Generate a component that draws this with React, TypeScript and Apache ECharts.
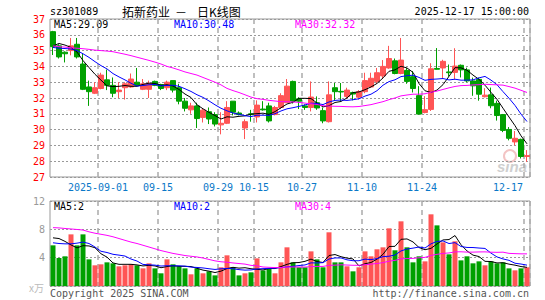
import React, { useEffect, useRef } from "react";
import * as echarts from "echarts";

const dates = [
  "2025-08-20","2025-08-21","2025-08-22","2025-08-25","2025-08-26","2025-08-27","2025-08-28","2025-08-29",
  "2025-09-01","2025-09-02","2025-09-03","2025-09-04","2025-09-05","2025-09-08","2025-09-09","2025-09-10","2025-09-11","2025-09-12",
  "2025-09-15","2025-09-16","2025-09-17","2025-09-18","2025-09-19","2025-09-22","2025-09-23","2025-09-24","2025-09-25","2025-09-26",
  "2025-09-29","2025-09-30","2025-10-09","2025-10-10","2025-10-13","2025-10-14","2025-10-15","2025-10-16","2025-10-17",
  "2025-10-20","2025-10-21","2025-10-22","2025-10-23","2025-10-24","2025-10-27","2025-10-28","2025-10-29","2025-10-30","2025-10-31",
  "2025-11-03","2025-11-04","2025-11-05","2025-11-06","2025-11-07","2025-11-10","2025-11-11","2025-11-12","2025-11-13","2025-11-14",
  "2025-11-17","2025-11-18","2025-11-19","2025-11-20","2025-11-21","2025-11-24","2025-11-25","2025-11-26","2025-11-27","2025-11-28",
  "2025-12-01","2025-12-02","2025-12-03","2025-12-04","2025-12-05","2025-12-08","2025-12-09","2025-12-10","2025-12-11","2025-12-12",
  "2025-12-15","2025-12-16","2025-12-17"
];

const opens = [
  36.2, 35.3, 34.9, 35.0, 35.4, 34.15, 32.7, 32.3, 32.6, 33.15,
  32.8, 32.4, 32.65, 32.7, 33.0, 32.55, 32.55, 33.05, 32.85, 32.65,
  33.1, 32.65, 31.8, 31.25, 31.5, 30.77, 31.13, 30.95, 30.3, 30.4,
  31.8, 31.05, 30.1, 31.0, 30.8, 31.3, 31.5, 30.95, 31.4, 31.7,
  33.05, 31.95, 31.5, 31.4, 31.7, 31.2, 30.5, 32.65, 32.42, 32.1,
  32.35, 32.05, 32.4, 32.7, 33.05, 33.4, 33.9, 34.35, 33.55, 33.75,
  33.35, 32.15, 31.08, 31.28, 33.87, 33.9, 33.65, 33.62, 34.07, 33.78,
  33.08, 33.18, 32.08, 32.2, 31.66, 30.95, 30.01, 29.22, 29.38, 28.3
];
const closes = [
  35.25, 34.6, 34.8, 35.3, 34.6, 32.55, 32.4, 32.65, 33.45, 32.8,
  32.3, 32.5, 32.9, 33.2, 32.8, 32.9, 32.9, 32.8, 32.6, 33.0,
  32.5, 31.8, 31.35, 31.5, 30.7, 31.23, 30.67, 30.35, 30.4, 31.4,
  31.1, 30.95, 30.5, 30.95, 31.55, 31.25, 30.55, 31.4, 32.15, 32.75,
  31.8, 31.8, 31.4, 32.06, 31.37, 30.55, 32.2, 32.4, 32.38, 32.5,
  32.25, 32.4, 33.1, 33.25, 33.6, 34.0, 34.5, 33.55, 34.4, 33.05,
  32.6, 30.98, 31.26, 33.85, 33.82, 34.32, 33.6, 34.02, 33.78, 33.08,
  32.77, 32.24, 32.18, 31.51, 30.89, 29.95, 29.45, 29.45, 28.3, 28.35
];
const lows = [
  34.72, 34.5, 34.25, 34.7, 34.5, 32.5, 31.5, 32.25, 32.55, 32.5,
  32.05, 32.0, 31.9, 32.65, 32.75, 32.5, 32.0, 32.75, 32.5, 32.5,
  32.35, 31.6, 31.15, 31.0, 30.1, 30.45, 30.35, 30.2, 29.7, 30.35,
  30.9, 30.9, 29.4, 30.5, 30.45, 31.2, 30.45, 30.9, 31.3, 31.7,
  31.65, 31.3, 31.25, 31.15, 31.25, 30.4, 30.45, 31.85, 31.8, 31.95,
  31.85, 31.9, 32.3, 32.65, 32.9, 33.2, 33.85, 33.5, 33.5, 32.9,
  32.35, 30.95, 31.03, 31.18, 33.8, 33.22, 33.35, 33.18, 33.3, 33.0,
  32.14, 31.83, 32.04, 31.35, 30.57, 29.84, 29.32, 29.0, 28.17, 27.96
];
const highs = [
  36.25, 35.4, 34.95, 35.8, 35.8, 34.8, 33.1, 33.0, 33.6, 33.8,
  33.3, 33.0, 33.0, 33.55, 33.9, 33.2, 33.1, 33.1, 32.9, 33.1,
  33.1, 32.9, 32.0, 31.7, 31.7, 31.35, 31.4, 31.1, 31.1, 31.8,
  31.8, 31.15, 30.65, 31.25, 31.85, 31.8, 31.7, 31.5, 32.3, 33.2,
  33.1, 32.05, 31.6, 33.05, 32.1, 31.4, 33.05, 32.95, 32.95, 32.65,
  32.4, 32.5, 33.6, 33.6, 33.9, 34.4, 35.3, 34.5, 35.8, 33.9,
  33.7, 32.75, 32.12, 34.2, 35.16, 34.42, 34.12, 35.15, 34.12, 33.92,
  33.29, 33.29, 32.62, 32.66, 31.83, 30.99, 30.16, 29.91, 29.43, 28.7
];
const volumes = [
  5.74, 3.95, 4.19, 7.29, 5.74, 7.29, 3.76, 2.92, 3.06, 3.34,
  3.2, 2.78, 2.92, 3.06, 2.92, 2.49, 3.2, 2.49, 1.79, 3.76,
  3.06, 2.78, 2.49, 1.65, 2.49, 1.79, 2.07, 1.5, 2.64, 4.33,
  2.64, 1.5, 1.79, 1.93, 3.9, 2.2, 2.49, 1.79, 3.34, 5.46,
  3.34, 2.64, 2.64, 4.89, 3.76, 2.64, 7.58, 3.34, 3.34, 2.78,
  2.07, 2.64, 4.89, 4.19, 5.18, 5.46, 8.14, 5.04, 9.13, 5.46,
  3.34, 4.19, 3.48, 10.12, 8.56, 6.16, 4.47, 6.31, 3.62, 4.19,
  3.2, 3.48, 2.92, 3.48, 3.2, 3.34, 2.49, 2.21, 2.49, 2.64
];

// Moving-average values before a full window is available
const priceMa5Head = [35.3, 35.45, 35.35, 35.2];
const priceMa10Head = [35.2, 35.15, 35.13, 35.1, 35.0, 34.8, 34.57, 34.3, 34.05];
const priceMa30Head = [
  35.3, 35.25, 35.22, 35.18, 35.15, 35.12, 35.08, 35.03, 35.0, 34.97,
  34.93, 34.85, 34.77, 34.68, 34.58, 34.48, 34.38, 34.27, 34.15, 34.0,
  33.9, 33.78, 33.65, 33.55, 33.45, 33.3, 33.15, 33.0, 32.83
];
const volMa5Head = [6.8, 6.7, 6.3, 5.8];
const volMa10Head = [6.1, 6.0, 5.95, 5.95, 6.05, 6.2, 6.0, 5.5, 4.9];
const volMa30Head = [
  8.24, 8.2, 8.12, 8.05, 7.98, 7.9, 7.65, 7.45, 7.3, 7.15,
  6.95, 6.7, 6.45, 6.2, 6.0, 5.75, 5.5, 5.25, 5.0, 4.8,
  4.6, 4.45, 4.3, 4.2, 4.1, 3.95, 3.75, 3.55, 3.42
];

const labelIndices = [8, 18, 28, 34, 42, 52, 62, 79];
const priceMin = 27;
const priceMax = 37;
const volMax = 12;

const UP = "#ff5555";
const DOWN = "#00a000";
const MONO = "DejaVu Sans Mono";

function movingAvg(values: number[], n: number, head: number[]) {
  return values.map((_, i) => {
    if (i < n - 1) return head[i];
    let s = 0;
    for (let k = i - n + 1; k <= i; k++) s += values[k];
    return +(s / n).toFixed(3);
  });
}

export default function App() {
  const ref = useRef<HTMLDivElement>(null);
  useEffect(() => {
    if (!ref.current) return;
    const chart = echarts.init(ref.current, null, { renderer: "svg" });
    const kdata = dates.map((_, i) => [opens[i], closes[i], lows[i], highs[i]]);
    const vdata = volumes.map((v, i) => ({
      value: v,
      itemStyle: { color: closes[i] >= opens[i] ? UP : DOWN },
    }));
    const splitV = {
      show: true,
      interval: (idx: number) => labelIndices.includes(idx),
      lineStyle: { color: "#aaa", width: 1.5, type: [5, 4] as any },
    };
    const line = (data: number[], color: string, xi: number, yi: number) => ({
      type: "line",
      data,
      xAxisIndex: xi,
      yAxisIndex: yi,
      showSymbol: false,
      symbol: "none",
      lineStyle: { color, width: 1 },
      silent: true,
      z: 5,
    });
    const txt = (text: string, x: number, y: number, fill: string, align = "left", font = `10px '${MONO}'`) => ({
      type: "text",
      x,
      y,
      silent: true,
      style: { text, fill, font, align, verticalAlign: "middle", textAlign: align, textVerticalAlign: "middle" },
    });
    chart.setOption({
      animation: false,
      backgroundColor: "#fff",
      grid: [
        { left: 50, top: 19, width: 480, height: 158, show: true, borderColor: "#999", borderWidth: 1, backgroundColor: "transparent" },
        { left: 50, top: 201, width: 480, height: 85, show: true, borderColor: "#999", borderWidth: 1, backgroundColor: "transparent" },
      ],
      xAxis: [
        {
          type: "category",
          gridIndex: 0,
          data: dates,
          boundaryGap: true,
          axisLine: { show: false },
          axisTick: { show: false },
          splitLine: splitV,
          axisLabel: {
            show: true,
            interval: (idx: number) => labelIndices.includes(idx),
            margin: 5,
            formatter: (value: string, idx: number) => {
              if (idx === 8) return "{a|" + value + "}";
              if (idx === 79) return "{r|" + value.slice(5) + "}";
              return "{a|" + value.slice(5) + "}";
            },
            rich: {
              a: { color: "#0a78c8", fontFamily: MONO, fontSize: 10, padding: [0, 6, 0, 0] },
              r: { color: "#0a78c8", fontFamily: MONO, fontSize: 10, padding: [0, 38, 0, 0] },
            },
          },
        },
        {
          type: "category",
          gridIndex: 1,
          data: dates,
          boundaryGap: true,
          axisLine: { show: false },
          axisTick: { show: false },
          axisLabel: { show: false },
          splitLine: splitV,
        },
      ],
      yAxis: [
        {
          type: "value",
          gridIndex: 0,
          min: priceMin,
          max: priceMax,
          interval: 1,
          axisLine: { show: false },
          axisTick: { show: false },
          axisLabel: { color: "#ff0000", fontFamily: MONO, fontSize: 10, margin: 5 },
          splitLine: { show: true, lineStyle: { color: "#999", width: 1, type: [2, 2] as any } },
        },
        {
          type: "value",
          gridIndex: 1,
          min: 0,
          max: volMax,
          interval: 4,
          axisLine: { show: false },
          axisTick: { show: false },
          axisLabel: {
            color: "#999",
            fontFamily: MONO,
            fontSize: 10,
            margin: 5,
            formatter: (v: number) => (v === 0 ? "" : String(v)),
          },
          splitLine: { show: true, lineStyle: { color: "#999", width: 1, type: [2, 2] as any } },
        },
      ],
      series: [
        {
          type: "candlestick",
          xAxisIndex: 0,
          yAxisIndex: 0,
          data: kdata,
          barWidth: 5,
          silent: true,
          itemStyle: { color: UP, color0: DOWN, borderColor: UP, borderColor0: DOWN, borderWidth: 1 },
          z: 3,
        },
        line(movingAvg(closes, 5, priceMa5Head), "#000000", 0, 0),
        line(movingAvg(closes, 10, priceMa10Head), "#0000ff", 0, 0),
        line(movingAvg(closes, 30, priceMa30Head), "#ff00ff", 0, 0),
        {
          type: "bar",
          xAxisIndex: 1,
          yAxisIndex: 1,
          data: vdata,
          barWidth: 5,
          silent: true,
          z: 3,
        },
        line(movingAvg(volumes, 5, volMa5Head), "#000000", 1, 1),
        line(movingAvg(volumes, 10, volMa10Head), "#0000ff", 1, 1),
        line(movingAvg(volumes, 30, volMa30Head), "#ff00ff", 1, 1),
      ],
      graphic: [
        txt("sz301089", 50, 11, "#000"),
        txt("拓新药业", 122, 11, "#000", "left", "12px 'Noto Sans CJK SC'"),
        txt("－", 181, 11, "#000", "center", "12px 'Noto Sans CJK SC'"),
        txt("日K线图", 197, 11, "#000", "left", "12px 'Noto Sans CJK SC'"),
        txt("2025-12-17 15:00:00", 529, 11, "#000", "right"),
        txt("MA5:29.09", 54, 24, "#000"),
        txt("MA10:30.48", 174, 24, "#0000ff"),
        txt("MA30:32.32", 295, 24, "#ff00ff"),
        txt("MA5:2", 54, 206, "#000"),
        txt("MA10:2", 174, 206, "#0000ff"),
        txt("MA30:4", 295, 206, "#ff00ff"),
        txt("x万", 44, 287, "#bbb", "right", "10px 'Noto Sans CJK SC'"),
        txt("Copyright 2025 SINA.COM", 50, 293, "#555"),
        txt("http://finance.sina.com.cn", 529, 293, "#555", "right"),
        {
          type: "circle",
          silent: true,
          shape: { cx: 510, cy: 156, r: 6 },
          style: { fill: "none", stroke: "#f3c4c4", lineWidth: 2 },
        },
        txt("sina", 512, 166, "#cfcfcf", "center", "italic bold 15px 'Liberation Sans'"),
      ],
    });
    return () => chart.dispose();
  }, []);
  return (
    <div
      ref={ref}
      style={{ position: "fixed", left: 0, top: 0, width: 545, height: 300, background: "#fff" }}
    />
  );
}
